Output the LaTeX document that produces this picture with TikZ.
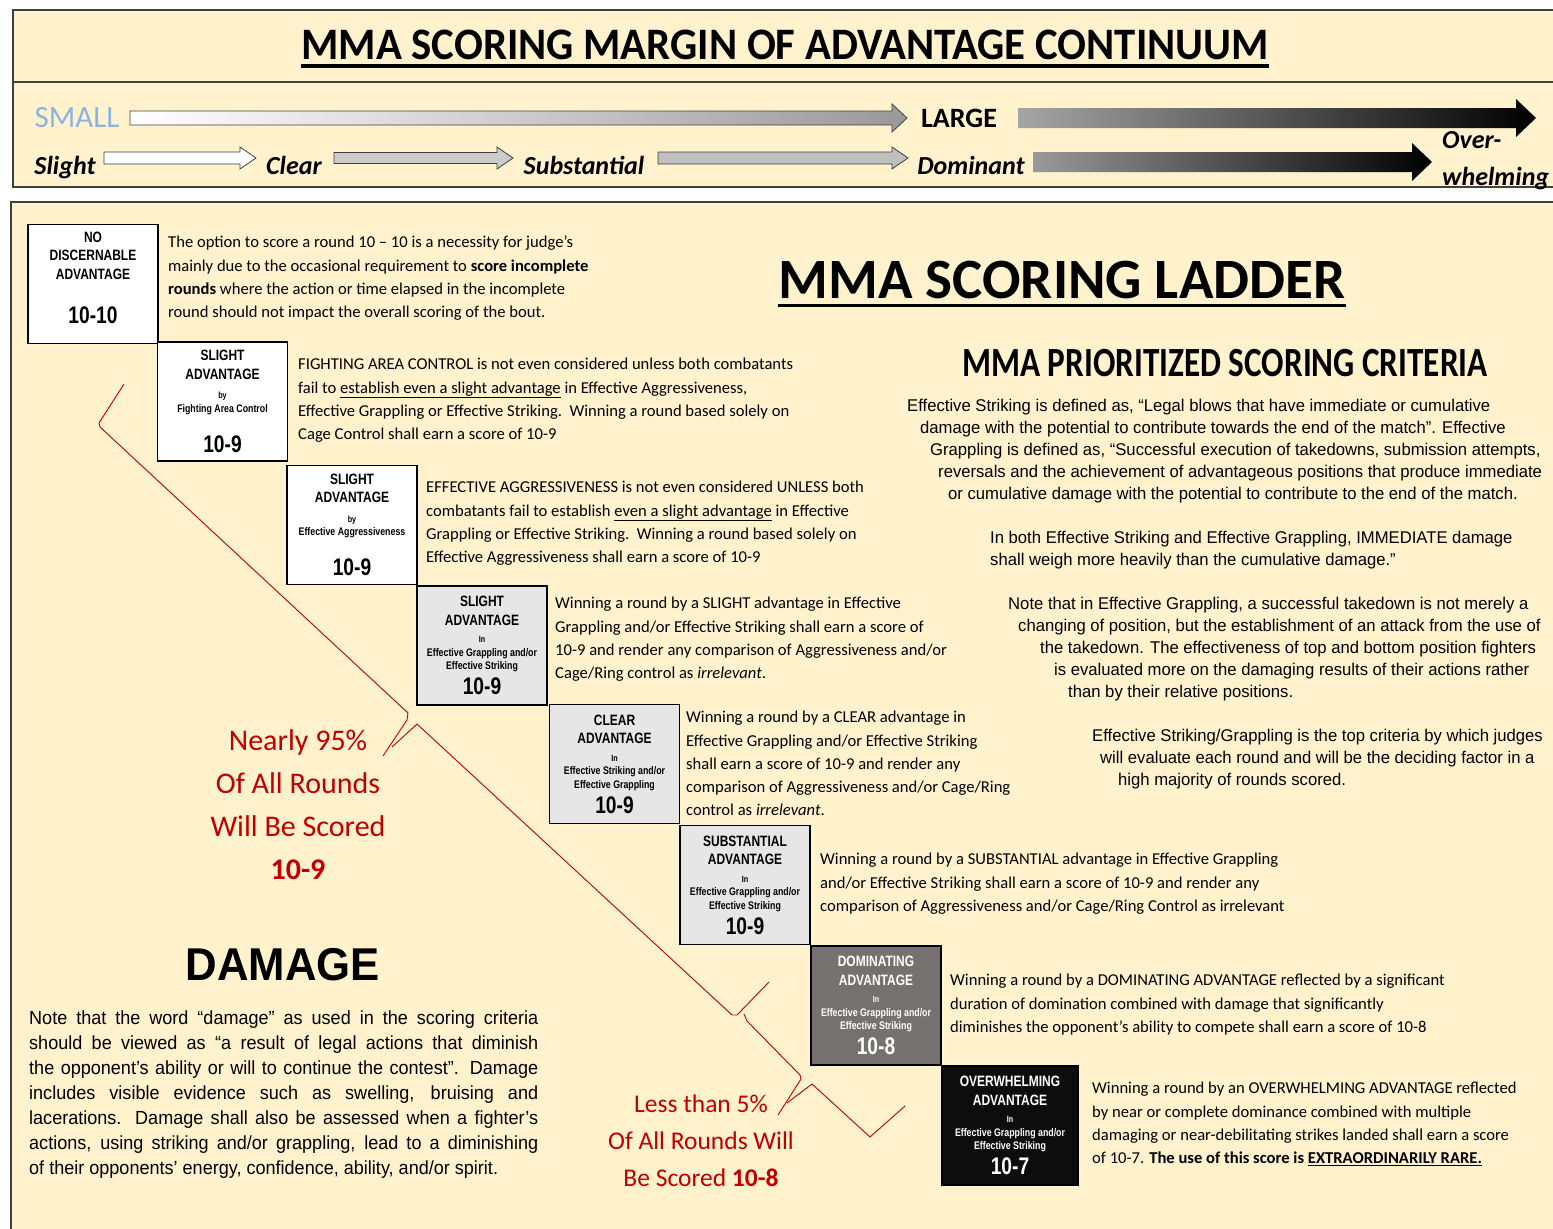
\documentclass[tikz,border=0pt]{standalone}
\usepackage{fontspec}
\setmainfont{Carlito}
\newfontfamily\narrowsans[FakeStretch=0.8]{Liberation Sans}
\newfontfamily\critsans[FakeStretch=0.98]{Liberation Sans}
\newfontfamily\dmgsans[FakeStretch=0.95]{Liberation Sans}
\newfontfamily\headcal[FakeStretch=0.95]{Carlito}
\newfontfamily\critcal[FakeStretch=0.8]{Carlito}
\usetikzlibrary{positioning, calc}
\definecolor{cream}{HTML}{FFF2CC}
\definecolor{frame}{HTML}{404040}
\definecolor{rung-light}{HTML}{E7E6E6}
\definecolor{rung-dark}{HTML}{767171}
\definecolor{rung-black}{HTML}{0D0D0D}
\definecolor{share-red}{HTML}{C00000}
\definecolor{small-blue}{HTML}{8DB3E2}

% box text sizes
\newcommand{\rungfont}{\narrowsans\bfseries\fontsize{15}{18.5}\selectfont}
\newcommand{\rungby}[1]{{\fontsize{9}{11}\selectfont #1}}
\newcommand{\rungsub}[1]{{\fontsize{11}{13}\selectfont #1}}
\newcommand{\rungnum}[1]{{\fontsize{24}{24}\selectfont #1}}
\newcommand{\dmgline}[1]{\makebox[509pt][s]{#1}}

% block arrow: [style] tail x, tip x, y, body half, head half, head length
\newcommand{\contarrow}[7][]{%
  \path[#1] (#2,#4-#5) -- (#3-#7,#4-#5) -- (#3-#7,#4-#6) -- (#3,#4)
    -- (#3-#7,#4+#6) -- (#3-#7,#4+#5) -- (#2,#4+#5) -- cycle;}

\begin{document}
\begin{tikzpicture}[
    x=1pt, y=-1pt,
    panel/.style={draw=frame, line width=1.4pt, fill=cream},
    rung/.style={
        rectangle, draw=black, line width=1.2pt,
        minimum width=130pt, minimum height=119pt,
        inner sep=0pt, align=center, font=\rungfont,
    },
    desc/.style={anchor=north west, inner sep=0pt, align=left,
        font=\fontsize{16.6}{23.3}\selectfont},
    crit/.style={anchor=north west, inner sep=0pt, align=left,
        font=\critsans\fontsize{17}{22}\selectfont},
    stage/.style={inner sep=0pt, anchor=base, font=\bfseries\itshape\fontsize{26}{37}\selectfont},
    share/.style={inner sep=0pt, align=center, text=share-red},
    brace/.style={draw=share-red, line width=0.9pt},
    lightarrow/.style={draw=frame, line width=0.8pt},
]

\useasboundingbox (0,0) rectangle (1553,1229);

% =====================================================================
% PANELS
% =====================================================================

\path[panel] (13,10)  rectangle (1570,82);
\path[panel] (13,82)  rectangle (1570,187);
\path[panel] (11,202) rectangle (1570,1240);

% =====================================================================
% CONTINUUM HEADER
% =====================================================================

\node[inner sep=0pt, font=\headcal\bfseries\fontsize{45}{45}\selectfont]
    (contitle) at (785,45) {MMA SCORING MARGIN OF ADVANTAGE CONTINUUM};
\draw[line width=4pt] ([yshift=-6pt]contitle.south west) -- ([yshift=-6pt]contitle.south east);

\node[inner sep=0pt, text=small-blue, font=\fontsize{31}{31}\selectfont] (small) at (77,118) {SMALL};
\node[inner sep=0pt, font=\bfseries\fontsize{28}{28}\selectfont] (large) at (959,118) {LARGE};

\contarrow[lightarrow, left color=white, right color=black!40]{130}{907}{118}{7}{14}{15}
\contarrow[left color=black!35, right color=black]{1018}{1536}{118}{10}{19}{20}

\node[stage] (slight)      at (65,174)  {Slight};
\node[stage] (clear)       at (294,174) {Clear};
\node[stage] (substantial) at (584,174) {Substantial};
\node[stage] (dominant)    at (971,174) {Dominant};
\node[stage, anchor=north west, align=left] (overwhelm) at (1442,131) {Over-\\whelming};

\contarrow[lightarrow, fill=white]{104}{256}{158}{6}{11}{16}
\contarrow[lightarrow, fill=black!20]{334}{513}{158}{5.5}{11}{16}
\contarrow[lightarrow, fill=black!25]{658}{908}{158}{6}{11}{16}
\contarrow[left color=black!40, right color=black]{1033}{1432}{162}{10}{19}{20}

% =====================================================================
% SCORING LADDER
% =====================================================================

\node[inner sep=0pt, font=\bfseries\fontsize{57}{57}\selectfont]
    (laddertitle) at (1062,280) {MMA SCORING LADDER};
\draw[line width=3pt] ([yshift=-6pt]laddertitle.south west) -- ([yshift=-6pt]laddertitle.south east);

\node[rung, fill=white] (nodisc) at (93,284)
    {NO\\DISCERNABLE\\ADVANTAGE\\[26pt]\rungnum{10-10}\\[-6pt]\mbox{}};
\node[rung, fill=white] (slightfac) at (222.5,401.5)
    {SLIGHT\\ADVANTAGE\\[1pt]\rungby{by}\\[-5pt]\rungsub{Fighting Area Control}\\[20pt]\rungnum{10-9}};
\node[rung, fill=white] (slightagg) at (352,525)
    {SLIGHT\\ADVANTAGE\\[1pt]\rungby{by}\\[-5pt]\rungsub{Effective Aggressiveness}\\[20pt]\rungnum{10-9}};
\node[rung, fill=rung-light] (slightin) at (482,645.5)
    {SLIGHT\\ADVANTAGE\\[-1pt]\rungby{In}\\[-5pt]\rungsub{Effective Grappling and/or}\\[-5pt]\rungsub{Effective Striking}\\[5pt]\rungnum{10-9}};
\node[rung, fill=rung-light] (clearin) at (614.5,764)
    {CLEAR\\ADVANTAGE\\[-1pt]\rungby{In}\\[-5pt]\rungsub{Effective Striking and/or}\\[-5pt]\rungsub{Effective Grappling}\\[5pt]\rungnum{10-9}};
\node[rung, fill=rung-light] (substin) at (745,885)
    {SUBSTANTIAL\\ADVANTAGE\\[-1pt]\rungby{In}\\[-5pt]\rungsub{Effective Grappling and/or}\\[-5pt]\rungsub{Effective Striking}\\[5pt]\rungnum{10-9}};
\node[rung, fill=rung-dark, text=white] (domin) at (876,1005.5)
    {DOMINATING\\ADVANTAGE\\[-1pt]\rungby{In}\\[-5pt]\rungsub{Effective Grappling and/or}\\[-5pt]\rungsub{Effective Striking}\\[5pt]\rungnum{10-8}};
\node[rung, fill=rung-black, text=white, minimum width=136pt] (overin) at (1010,1125.5)
    {OVERWHELMING\\ADVANTAGE\\[-1pt]\rungby{In}\\[-5pt]\rungsub{Effective Grappling and/or}\\[-5pt]\rungsub{Effective Striking}\\[5pt]\rungnum{10-7}};

% descriptions beside each rung
\node[desc] (nodiscdesc) at (168,236) {The option to score a round 10 – 10 is a necessity for judge’s\\
    mainly due to the occasional requirement to \textbf{score incomplete}\\
    \textbf{rounds} where the action or time elapsed in the incomplete\\
    round should not impact the overall scoring of the bout.};
\node[desc] (slightfacdesc) at (298,358) {FIGHTING AREA CONTROL is not even considered unless both combatants\\
    fail to \underline{establish even a slight advantage} in Effective Aggressiveness,\\
    Effective Grappling or Effective Striking.\ \ Winning a round based solely on\\
    Cage Control shall earn a score of 10-9};
\node[desc] (slightaggdesc) at (426,481) {EFFECTIVE AGGRESSIVENESS is not even considered UNLESS both\\
    combatants fail to establish \underline{even a slight advantage} in Effective\\
    Grappling or Effective Striking.\ \ Winning a round based solely on\\
    Effective Aggressiveness shall earn a score of 10-9};
\node[desc] (slightindesc) at (555,597) {Winning a round by a SLIGHT advantage in Effective\\
    Grappling and/or Effective Striking shall earn a score of\\
    10-9 and render any comparison of Aggressiveness and/or\\
    Cage/Ring control as \textit{irrelevant}.};
\node[desc] (clearindesc) at (686,711) {Winning a round by a CLEAR advantage in\\
    Effective Grappling and/or Effective Striking\\
    shall earn a score of 10-9 and render any\\
    comparison of Aggressiveness and/or Cage/Ring\\
    control as \textit{irrelevant}.};
\node[desc] (substindesc) at (820,853) {Winning a round by a SUBSTANTIAL advantage in Effective Grappling\\
    and/or Effective Striking shall earn a score of 10-9 and render any\\
    comparison of Aggressiveness and/or Cage/Ring Control as irrelevant};
\node[desc] (domindesc) at (950,974) {Winning a round by a DOMINATING ADVANTAGE reflected by a significant\\
    duration of domination combined with damage that significantly\\
    diminishes the opponent’s ability to compete shall earn a score of 10-8};
\node[desc] (overindesc) at (1092,1082) {Winning a round by an OVERWHELMING ADVANTAGE reflected\\
    by near or complete dominance combined with multiple\\
    damaging or near-debilitating strikes landed shall earn a score\\
    of 10-7. \textbf{The use of this score is \underline{EXTRAORDINARILY RARE.}}};

% red braces and shares
\draw[brace] (124,384) -- (99,423) -- (100,427) -- (408,713) -- (407,720) -- (383,756);
\draw[brace] (392,747) -- (417,724) -- (732,1015) -- (737,1015) -- (769,982);
\draw[brace] (744,1014) -- (747,1021) -- (800,1075) -- (801,1079) -- (778,1115);
\draw[brace] (787,1103) -- (812,1084) -- (870,1137) -- (905,1106);

\node[share, font=\fontsize{30}{43}\selectfont] (most) at (298,805)
    {Nearly 95\%\\Of All Rounds\\Will Be Scored\\\textbf{10-9}};
\node[share, font=\fontsize{25.5}{37}\selectfont] (few) at (701,1141)
    {Less than 5\%\\Of All Rounds Will\\Be Scored \textbf{10-8}};

% =====================================================================
% PRIORITIZED CRITERIA
% =====================================================================

\node[inner sep=0pt, font=\critcal\bfseries\fontsize{41.5}{41.5}\selectfont]
    (crithead) at (1225,363) {MMA PRIORITIZED SCORING CRITERIA};

\node[crit] (striking) at (907,399) {Effective Striking is defined as, “Legal blows that have immediate or cumulative\\
    \hspace*{13pt}damage with the potential to contribute towards the end of the match”. Effective\\
    \hspace*{23pt}Grappling is defined as, “Successful execution of takedowns, submission attempts,\\
    \hspace*{31pt}reversals and the achievement of advantageous positions that produce immediate\\
    \hspace*{41pt}or cumulative damage with the potential to contribute to the end of the match.};
\node[crit] (immediate) at (990,531) {In both Effective Striking and Effective Grappling, IMMEDIATE damage\\
    shall weigh more heavily than the cumulative damage.”};
\node[crit] (takedown) at (1008,597) {Note that in Effective Grappling, a successful takedown is not merely a\\
    \hspace*{10pt}changing of position, but the establishment of an attack from the use of\\
    \hspace*{32pt}the takedown. The effectiveness of top and bottom position fighters\\
    \hspace*{46pt}is evaluated more on the damaging results of their actions rather\\
    \hspace*{60pt}than by their relative positions.};
\node[crit] (topcrit) at (1092,729) {Effective Striking/Grappling is the top criteria by which judges\\
    \hspace*{8pt}will evaluate each round and will be the deciding factor in a\\
    \hspace*{26pt}high majority of rounds scored.};

% =====================================================================
% DAMAGE
% =====================================================================

\node[inner sep=0pt, font=\dmgsans\bfseries\fontsize{46}{46}\selectfont]
    (damagehead) at (283,965) {DAMAGE};
\node[anchor=north west, inner sep=0pt, align=left,
      font=\dmgsans\fontsize{19}{25}\selectfont] (damagetext) at (29,1011)
    {\dmgline{Note that the word “damage” as used in the scoring criteria}\\
     \dmgline{should be viewed as “a result of legal actions that diminish}\\
     \dmgline{the opponent’s ability or will to continue the contest”. Damage}\\
     \dmgline{includes visible evidence such as swelling, bruising and}\\
     \dmgline{lacerations. Damage shall also be assessed when a fighter’s}\\
     \dmgline{actions, using striking and/or grappling, lead to a diminishing}\\
     of their opponents’ energy, confidence, ability, and/or spirit.};

\end{tikzpicture}
\end{document}
